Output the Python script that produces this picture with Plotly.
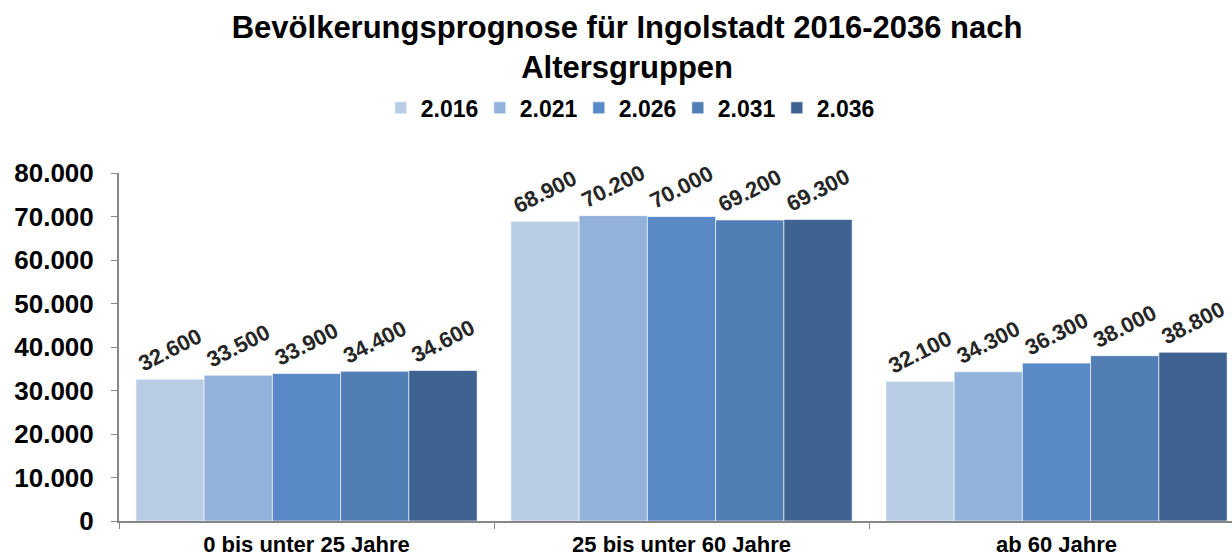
import plotly.graph_objects as go

categories = ["0 bis unter 25 Jahre", "25 bis unter 60 Jahre", "ab 60 Jahre"]
series_names = ["2.016", "2.021", "2.026", "2.031", "2.036"]
values_2016 = [32600, 68900, 32100]
values_2021 = [33500, 70200, 34300]
values_2026 = [33900, 70000, 36300]
values_2031 = [34400, 69200, 38000]
values_2036 = [34600, 69300, 38800]
y_ticks = [0, 10000, 20000, 30000, 40000, 50000, 60000, 70000, 80000]

series_values = [values_2016, values_2021, values_2026, values_2031, values_2036]
colors = ["#B8CCE4", "#92B1DB", "#5A89C8", "#507EB5", "#3E6291"]

FONT = "Liberation Sans, Arial, sans-serif"

fig = go.Figure()
for name, vals, col in zip(series_names, series_values, colors):
    fig.add_trace(go.Bar(
        name=f"<b>{name}</b>", x=categories, y=vals,
        marker=dict(color=col, line=dict(color="rgba(255,255,255,0.6)", width=1)),
        texttemplate="<b>%{y:,}</b>", textposition="outside", textangle=-27,
        constraintext="none", cliponaxis=False,
        textfont=dict(family=FONT, size=22, color="#262626"),
    ))

fig.update_layout(
    width=1232, height=559,
    barmode="group", bargap=0.09, bargroupgap=0,
    separators=",.",
    paper_bgcolor="white", plot_bgcolor="white",
    margin=dict(l=119, r=0, t=173, b=38, autoexpand=False),
    font=dict(family=FONT, color="#000000"),
    title=dict(
        text="<b>Bevölkerungsprognose für Ingolstadt 2016-2036 nach<br>Altersgruppen</b>",
        x=0.509, xref="container", xanchor="center",
        y=0.932, yref="container", yanchor="middle",
        font=dict(family=FONT, size=31, color="#000000"),
    ),
    legend=dict(
        orientation="h", x=0.51, xref="container", xanchor="center",
        y=0.807, yref="container", yanchor="middle",
        font=dict(family=FONT, size=23, color="#000000"),
        itemwidth=30, entrywidth=54, entrywidthmode="pixels", traceorder="normal",
    ),
    showlegend=True,
)
fig.update_xaxes(
    range=[-0.5, 2.468], automargin=False,
    tickvals=categories, ticktext=[f"<b>{c}</b>" for c in categories],
    showline=True, linecolor="#868686", linewidth=2,
    ticks="outside", tickson="boundaries", ticklen=6, tickcolor="#868686",
    tickfont=dict(family=FONT, size=22, color="#000000"),
    ticklabelstandoff=3,
)
fig.update_yaxes(
    range=[0, 80000], automargin=False,
    tickvals=y_ticks, ticktext=[f"<b>{v:,}</b>".replace(",", ".") for v in y_ticks],
    showgrid=False, zeroline=False,
    showline=True, linecolor="#868686", linewidth=2,
    ticks="outside", ticklen=6, tickcolor="#868686",
    tickfont=dict(family=FONT, size=26, color="#000000"),
    ticklabelstandoff=12,
)

fig.write_html("out.html", config={"displayModeBar": False},
               post_script="document.body.style.margin='0';")
